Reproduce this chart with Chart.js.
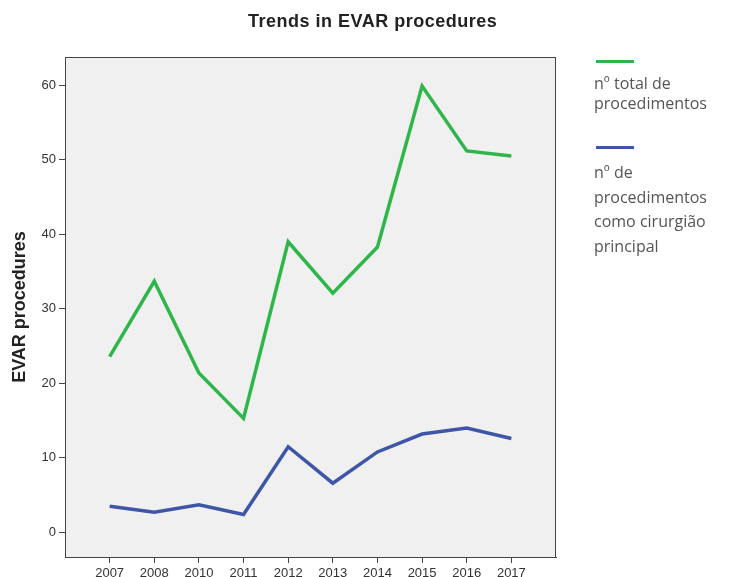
<!DOCTYPE html>
<html>
<head>
<meta charset="utf-8">
<script src="https://cdn.jsdelivr.net/npm/chart.js@4/dist/chart.umd.min.js"></script>
<style>
  html, body { margin: 0; padding: 0; background: #fff; }
  #wrap { position: relative; width: 730px; height: 577px; overflow: hidden; }
  #c { position: absolute; left: 0; top: 0; }
  #title { position: absolute; left: 248px; top: 11px; white-space: nowrap; letter-spacing: 0.5px;
           font: bold 18px "Liberation Sans", Arial, sans-serif; color: #222; }
  .leg { position: absolute; left: 594px; font-family: "Open Sans", sans-serif; font-size: 16px; color: #555; white-space: nowrap; }
  .sw { position: absolute; left: 596px; width: 38px; height: 3px; }
</style>
</head>
<body>
<div id="wrap">
  <canvas id="c" width="730" height="577"></canvas>
  <div id="title">Trends in EVAR procedures</div>
  <div class="sw" style="top:60px;background:#2fb64a;"></div>
  <div class="leg" style="top:73px;line-height:20px;">nº total de<br>procedimentos</div>
  <div class="sw" style="top:146px;background:#3f56a8;"></div>
  <div class="leg" style="top:160px;line-height:24.5px;">nº de<br>procedimentos<br>como cirurgião<br>principal</div>
</div>
<script>
const years = ['2007', '2008', '2010', '2011', '2012', '2013', '2014', '2015', '2016', '2017'];
const totalProcedures = [23.6, 33.7, 21.4, 15.3, 39.0, 32.1, 38.3, 59.9, 51.2, 50.5];
const mainSurgeonProcedures = [3.5, 2.7, 3.7, 2.4, 11.5, 6.6, 10.8, 13.2, 14.0, 12.6];
const yTickValues = [0, 10, 20, 30, 40, 50, 60];

const toPoints = arr => arr.map((v, i) => ({ x: i, y: v }));

const plotBg = {
  id: 'plotBg',
  beforeDraw(chart) {
    const { ctx, chartArea: a } = chart;
    ctx.save();
    ctx.fillStyle = '#f0f0f0';
    ctx.fillRect(a.left, a.top, a.right - a.left, a.bottom - a.top);
    ctx.restore();
  },
  afterDraw(chart) {
    const { ctx, chartArea: a } = chart;
    ctx.save();
    ctx.strokeStyle = '#444';
    ctx.lineWidth = 1;
    ctx.strokeRect(a.left + 0.5, a.top + 0.5, a.right - a.left - 1, a.bottom - a.top);
    ctx.restore();
  }
};

new Chart(document.getElementById('c'), {
  type: 'line',
  data: {
    datasets: [
      { label: 'nº total de procedimentos', data: toPoints(totalProcedures),
        borderColor: '#2fb64a', borderWidth: 3.5, pointRadius: 0, tension: 0 },
      { label: 'nº de procedimentos como cirurgião principal', data: toPoints(mainSurgeonProcedures),
        borderColor: '#3f56a8', borderWidth: 3.5, pointRadius: 0, tension: 0 }
    ]
  },
  options: {
    responsive: false,
    animation: false,
    layout: { padding: { left: 0, top: 57, right: 174, bottom: 0 } },
    plugins: { legend: { display: false }, title: { display: false }, tooltip: { enabled: false } },
    scales: {
      x: {
        type: 'linear', min: -1, max: 10,
        afterBuildTicks(scale) { scale.ticks = years.map((y, i) => ({ value: i })); },
        afterFit(scale) { scale.height = 20; },
        ticks: { callback: v => years[v] ?? '', color: '#333', font: { family: 'Liberation Sans', size: 13 }, padding: 3, maxRotation: 0, autoSkip: false },
        grid: { drawOnChartArea: false, tickLength: 6, color: '#444' },
        border: { display: true, color: '#444' }
      },
      y: {
        min: -3.3, max: 63.8,
        afterBuildTicks(scale) { scale.ticks = yTickValues.map(v => ({ value: v })); },
        afterFit(scale) { scale.width = 65; },
        ticks: { color: '#333', font: { family: 'Liberation Sans', size: 13 }, padding: 3 },
        grid: { drawOnChartArea: false, tickLength: 6, color: '#444' },
        border: { display: true, color: '#444' },
        title: { display: true, text: 'EVAR procedures', color: '#222',
                 font: { family: 'Liberation Sans', size: 18, weight: 'bold' }, padding: { top: 9, bottom: 0 } }
      }
    }
  },
  plugins: [plotBg]
});
</script>
</body>
</html>
